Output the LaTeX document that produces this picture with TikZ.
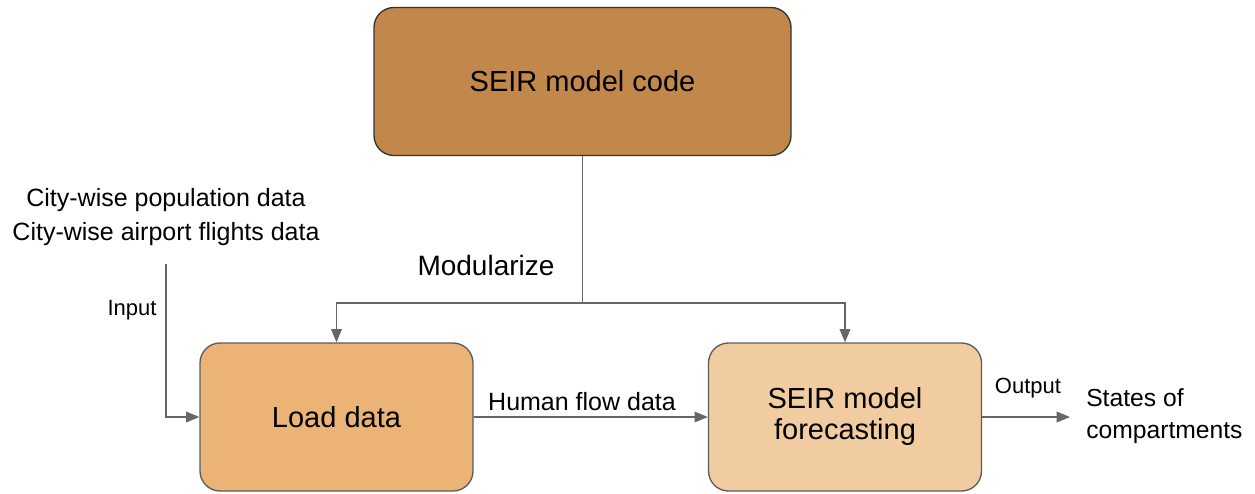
\documentclass[tikz,border=0pt]{standalone}
\usepackage{fontspec}
\setmainfont{Liberation Sans}
\usetikzlibrary{arrows.meta}
\definecolor{topfill}{HTML}{C1874B}
\definecolor{loadfill}{HTML}{EBB376}
\definecolor{forefill}{HTML}{F2CCA1}
\definecolor{linegray}{HTML}{666666}
\begin{document}
\begin{tikzpicture}[x=0.75pt,y=-0.75pt,
  box/.style={draw=#1, line width=1pt, rounded corners=15pt, minimum width=204.75pt, minimum height=111pt, inner sep=0pt, align=center, font=\fontsize{21.75}{25.5}\selectfont},
  arr/.style={draw=linegray, line width=1.1pt, -{Triangle[length=10pt,width=8pt]}},
  conn/.style={draw=linegray, line width=1.1pt},
  lbl/.style={inner sep=0pt, align=center}]
\useasboundingbox (0,0) rectangle (1255,493);
\node[box=black!80, fill=topfill, minimum width=312.75pt] (top) at (582.5,81.5) {SEIR model code};
\node[box=linegray!90!black, fill=loadfill] (load) at (336.5,417) {Load data};
\node[box=linegray!90!black, fill=forefill] (fore) at (845,417) {\raisebox{-3pt}{\begin{tabular}{@{}c@{}}SEIR model\\[-2pt]forecasting\end{tabular}}};
\node[lbl, font=\fontsize{18.75}{26}\selectfont] (src) at (166,217) {City-wise population data\\City-wise airport flights data};
\coordinate (inp) at (166,264);
\coordinate (mid) at (582.5,303);
\node[lbl, font=\fontsize{21}{25}\selectfont] (mod) at (486,265) {Modularize};
\node[lbl, font=\fontsize{16.5}{20}\selectfont] (inlbl) at (132,310) {Input};
\node[lbl, font=\fontsize{18.75}{22}\selectfont] (hf) at (582,402) {Human flow data};
\node[lbl, font=\fontsize{16.5}{20}\selectfont] (outlbl) at (1028,388) {Output};
\node[inner ysep=0pt, inner xsep=12pt, anchor=west, align=left, font=\fontsize{18.5}{24}\selectfont] (states) at (1070,416) {States of\\compartments};
\draw[conn] (top.south) -- (mid);
\draw[arr] (mid) -| (load.north);
\draw[arr] (mid) -| (fore.north);
\draw[arr] (inp) |- (load.west);
\draw[arr] (load.east) -- (fore.west);
\draw[arr] (fore.east) -- (fore.east -| states.west);
\end{tikzpicture}
\end{document}
